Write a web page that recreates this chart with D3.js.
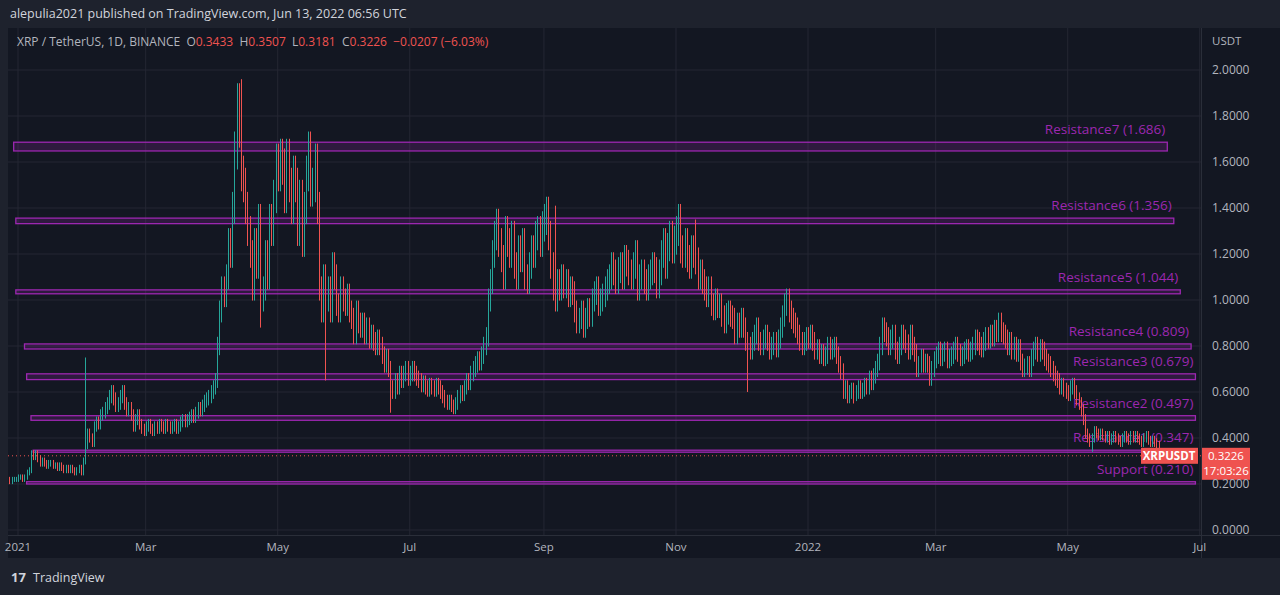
<!DOCTYPE html>
<html><head><meta charset="utf-8">
<script src="https://cdn.jsdelivr.net/npm/d3@7"></script>
<style>
body{margin:0;background:#131722;overflow:hidden}
text{font-family:"Open Sans","Noto Sans",sans-serif}
</style></head>
<body><svg width="1280" height="595"></svg>
<script>
// daily closes, Dec 28 2020 .. Jun 13 2022, one list per month
const closes = [
  [0.21,0.22,0.22,0.22],
  [0.23,0.23,0.22,0.23,0.25,0.26,0.33,0.32,0.33,0.31,0.29,0.30,0.29,0.28,0.29,0.29,0.28,0.28,0.27,0.28,0.27,0.26,0.27,0.26,0.27,0.26,0.25,0.26,0.27,0.25,0.30],
  [0.37,0.42,0.40,0.38,0.45,0.47,0.46,0.50,0.51,0.53,0.55,0.58,0.60,0.57,0.54,0.55,0.58,0.60,0.55,0.52,0.53,0.50,0.45,0.48,0.50,0.46,0.44,0.43],
  [0.45,0.46,0.44,0.43,0.45,0.44,0.46,0.45,0.44,0.46,0.45,0.44,0.45,0.46,0.44,0.45,0.47,0.48,0.47,0.48,0.49,0.50,0.49,0.51,0.53,0.52,0.54,0.56,0.57,0.58,0.60],
  [0.62,0.65,0.80,0.95,1.05,1.02,1.10,1.25,1.20,1.40,1.65,1.85,1.75,1.55,1.50,1.40,1.30,1.20,1.05,1.25,1.15,1.35,1.00,1.05,1.20,1.10,1.35,1.30,1.45,1.60],
  [1.55,1.62,1.58,1.45,1.62,1.50,1.40,1.55,1.50,1.30,1.45,1.25,1.40,1.55,1.65,1.48,1.50,1.60,1.40,1.05,0.95,1.10,1.00,1.05,0.95,1.15,1.10,0.98,0.95,1.05,1.00],
  [0.98,1.02,0.95,0.92,0.85,0.95,0.90,0.88,0.90,0.85,0.88,0.83,0.85,0.82,0.80,0.83,0.80,0.76,0.72,0.75,0.70,0.62,0.60,0.65,0.62,0.68,0.65,0.68,0.70,0.66],
  [0.68,0.70,0.68,0.66,0.65,0.63,0.64,0.62,0.61,0.63,0.62,0.61,0.63,0.62,0.60,0.58,0.56,0.55,0.56,0.54,0.53,0.55,0.58,0.60,0.59,0.62,0.65,0.64,0.68,0.70,0.72],
  [0.74,0.73,0.76,0.80,0.84,1.00,1.08,1.20,1.28,1.33,1.25,1.18,1.10,1.30,1.25,1.20,1.28,1.15,1.10,1.22,1.18,1.25,1.10,1.08,1.15,1.22,1.20,1.28,1.30,1.25,1.32],
  [1.35,1.38,1.28,1.15,1.05,1.00,1.08,1.05,1.10,1.06,1.08,1.02,1.05,1.03,0.95,0.90,0.92,0.95,0.88,0.92,0.96,0.93,1.00,1.03,1.05,0.98,1.00,1.02,1.05,1.08],
  [1.10,1.15,1.12,1.08,1.13,1.15,1.10,1.18,1.16,1.12,1.10,1.15,1.20,1.05,1.10,1.12,1.08,1.05,1.10,1.12,1.15,1.13,1.06,1.12,1.20,1.25,1.15,1.23,1.28,1.22,1.26],
  [1.30,1.35,1.22,1.20,1.25,1.18,1.15,1.22,1.20,1.17,1.10,1.12,1.08,1.05,1.02,1.05,0.98,0.96,1.00,0.97,0.98,0.93,0.90,0.94,0.95,0.93,0.92,0.85,0.90,0.88],
  [0.92,0.88,0.82,0.80,0.78,0.82,0.85,0.88,0.82,0.80,0.83,0.85,0.82,0.78,0.80,0.82,0.79,0.83,0.88,0.93,0.98,1.00,0.95,0.92,0.90,0.88,0.85,0.82,0.80,0.82,0.84],
  [0.83,0.85,0.82,0.78,0.79,0.76,0.77,0.75,0.76,0.80,0.78,0.79,0.80,0.76,0.72,0.69,0.60,0.62,0.58,0.60,0.61,0.59,0.60,0.62,0.60,0.61,0.63,0.62,0.66,0.64,0.67],
  [0.70,0.73,0.80,0.88,0.86,0.84,0.80,0.83,0.85,0.78,0.76,0.80,0.85,0.83,0.81,0.78,0.85,0.80,0.77,0.70,0.72,0.75,0.72,0.73,0.72,0.66,0.70,0.74],
  [0.76,0.78,0.75,0.77,0.78,0.74,0.75,0.76,0.78,0.80,0.77,0.75,0.76,0.78,0.79,0.77,0.78,0.80,0.83,0.82,0.80,0.79,0.82,0.84,0.83,0.85,0.84,0.87,0.86,0.90,0.86],
  [0.85,0.83,0.80,0.82,0.78,0.80,0.77,0.79,0.73,0.70,0.71,0.72,0.70,0.75,0.78,0.80,0.77,0.79,0.78,0.75,0.73,0.72,0.70,0.68,0.66,0.65,0.62,0.63,0.61,0.60],
  [0.59,0.62,0.63,0.60,0.57,0.55,0.52,0.48,0.42,0.40,0.38,0.40,0.43,0.42,0.41,0.42,0.41,0.40,0.41,0.39,0.40,0.41,0.40,0.39,0.38,0.40,0.41,0.40,0.39,0.41,0.40],
  [0.41,0.40,0.39,0.38,0.40,0.41,0.39,0.38,0.39,0.38,0.37,0.3433,0.3226]
];
// notable wicks
const wickDates = ['2021-02-01','2021-04-14','2021-04-23','2021-05-23','2021-06-22','2021-09-06','2021-11-10','2021-12-04','2022-01-22','2022-05-12','2022-06-13'];
const wickHighs = [0.75,1.96,null,null,null,1.41,1.35,null,null,null,0.3507];
const wickLows  = [null,null,0.88,0.65,0.51,null,null,0.60,0.55,0.34,0.3181];

const levelNames = ['Resistance7 (1.686)','Resistance6 (1.356)','Resistance5 (1.044)','Resistance4 (0.809)','Resistance3 (0.679)','Resistance2 (0.497)','Resistance1 (0.347)','Support (0.210)'];
const levelTops = [1.686,1.356,1.044,0.809,0.679,0.497,0.347,0.210];
const levelBottoms = [1.648,1.332,1.027,0.787,0.654,0.477,0.339,0.200];
const levelStarts = ['2020-12-30','2020-12-31','2020-12-31','2021-01-04','2021-01-05','2021-01-07','2021-01-08','2021-01-05'];
const levelEnds = ['2022-06-16','2022-06-19','2022-06-22','2022-06-27','2022-06-29','2022-06-29','2022-06-29','2022-06-29'];

const priceTicks = [0,0.2,0.4,0.6,0.8,1.0,1.2,1.4,1.6,1.8,2.0];
const monthTicks = ['2021-01-01','2021-03-01','2021-05-01','2021-07-01','2021-09-01','2021-11-01','2022-01-01','2022-03-01','2022-05-01','2022-07-01'];
const monthLabels = ['2021','Mar','May','Jul','Sep','Nov','2022','Mar','May','Jul'];

const parse = d3.utcParse('%Y-%m-%d');
const svg = d3.select('svg');
const x = d3.scaleUtc().domain([parse('2021-01-01'), parse('2022-01-01')]).range([18, 808]);
const y = d3.scaleLinear().domain([0, 2]).range([530, 70]);

// build candles
const flat = closes.flat();
const start = parse('2020-12-28');
const wickMap = new Map(wickDates.map((d, i) => [d, i]));
const candles = flat.map((c, i) => {
    const date = d3.utcDay.offset(start, i);
    const o = i === flat.length - 1 ? 0.3433 : (i === 0 ? 0.22 : flat[i - 1]);
    let h = Math.max(o, c) * 1.05, l = Math.min(o, c) * 0.95;
    const k = wickMap.get(d3.utcFormat('%Y-%m-%d')(date));
    if (k !== undefined) {
        if (wickHighs[k] !== null) h = wickHighs[k];
        if (wickLows[k] !== null) l = wickLows[k];
    }
    return {date, o, h, l, c};
});

// header
svg.append('rect').attr('width', 1280).attr('height', 28).attr('fill', '#1e222d');
svg.append('text').attr('x', 10).attr('y', 18).attr('fill', '#d1d4dc').style('font-size', '12.5px')
    .text('alepulia2021 published on TradingView.com, Jun 13, 2022 06:56 UTC');
svg.append('rect').attr('x', 0).attr('y', 28).attr('width', 8).attr('height', 530).attr('fill', '#1e222d');
svg.append('rect').attr('x', 0).attr('y', 558).attr('width', 1280).attr('height', 37).attr('fill', '#1e222d');

// grid
svg.append('g').selectAll('line').data(priceTicks).join('line')
    .attr('x1', 8).attr('x2', 1201).attr('y1', d => y(d)).attr('y2', d => y(d))
    .attr('stroke', '#242733');
svg.append('g').selectAll('line').data(monthTicks).join('line')
    .attr('x1', d => x(parse(d))).attr('x2', d => x(parse(d))).attr('y1', 28).attr('y2', 535)
    .attr('stroke', '#242733');
svg.append('line').attr('x1', 1201.5).attr('x2', 1201.5).attr('y1', 28).attr('y2', 558).attr('stroke', '#2a2e39');
svg.append('line').attr('x1', 8).attr('x2', 1280).attr('y1', 535.5).attr('y2', 535.5).attr('stroke', '#2a2e39');

// level bands
const lv = svg.append('g');
levelTops.forEach((t, i) => {
    lv.append('rect')
        .attr('x', x(parse(levelStarts[i]))).attr('y', y(t))
        .attr('width', x(parse(levelEnds[i])) - x(parse(levelStarts[i])))
        .attr('height', Math.max(2, y(levelBottoms[i]) - y(t)))
        .attr('fill', 'rgba(156,39,176,0.2)').attr('stroke', '#9c27b0').attr('stroke-width', 1.3);
    lv.append('text').attr('x', x(parse(levelEnds[i])) - 2).attr('y', y(t) - 8)
        .attr('text-anchor', 'end').attr('fill', '#9c27b0').style('font-size', '13.5px').text(levelNames[i]);
});

// candles
const cg = svg.append('g');
cg.selectAll('line').data(candles).join('line')
    .attr('x1', d => Math.round(x(d.date)) + 0.5).attr('x2', d => Math.round(x(d.date)) + 0.5)
    .attr('y1', d => y(d.h)).attr('y2', d => y(d.l))
    .attr('stroke', d => d.c >= d.o ? '#26a69a' : '#ef5350').attr('stroke-width', 1);

// last price line and tags
svg.append('line').attr('x1', 8).attr('x2', 1201).attr('y1', y(0.3226)).attr('y2', y(0.3226))
    .attr('stroke', '#ef5350').attr('stroke-dasharray', '1,3');
svg.append('rect').attr('x', 1141).attr('y', y(0.3226) - 8).attr('width', 57).attr('height', 16).attr('fill', '#ef5350');
svg.append('text').attr('x', 1169).attr('y', y(0.3226) + 4).attr('text-anchor', 'middle').attr('fill', '#fff')
    .style('font-size', '11.5px').style('font-weight', 'bold').text('XRPUSDT');
svg.append('rect').attr('x', 1202).attr('y', y(0.3226) - 8).attr('width', 48).attr('height', 32).attr('fill', '#ef5350');
svg.append('text').attr('x', 1226).attr('y', y(0.3226) + 4).attr('text-anchor', 'middle').attr('fill', '#fff')
    .style('font-size', '11.5px').text('0.3226');
svg.append('text').attr('x', 1226).attr('y', y(0.3226) + 19).attr('text-anchor', 'middle').attr('fill', '#fff')
    .style('font-size', '11.5px').text('17:03:26');

// price axis
const ya = svg.append('g').attr('transform', 'translate(1201,0)')
    .call(d3.axisRight(y).tickValues(priceTicks).tickFormat(d3.format('.4f')).tickSize(0).tickPadding(11));
ya.select('.domain').remove();
ya.selectAll('text').attr('fill', '#b2b5be').style('font-size', '12px');
svg.append('text').attr('x', 1212).attr('y', 45).attr('fill', '#b2b5be').style('font-size', '11.5px').text('USDT');

// time axis
svg.append('g').selectAll('text').data(monthTicks).join('text')
    .attr('x', d => x(parse(d))).attr('y', 551).attr('text-anchor', 'middle')
    .attr('fill', '#b2b5be').style('font-size', '11.5px').text((d, i) => monthLabels[i]);

// legend line
const lg = svg.append('text').attr('x', 17).attr('y', 46).style('font-size', '12px').attr('fill', '#b2b5be')
    .attr('xml:space', 'preserve').style('white-space', 'pre');
lg.append('tspan').text('XRP / TetherUS, 1D, BINANCE  O');
lg.append('tspan').attr('fill', '#ef5350').text('0.3433');
lg.append('tspan').text('  H');
lg.append('tspan').attr('fill', '#ef5350').text('0.3507');
lg.append('tspan').text('  L');
lg.append('tspan').attr('fill', '#ef5350').text('0.3181');
lg.append('tspan').text('  C');
lg.append('tspan').attr('fill', '#ef5350').text('0.3226  −0.0207 (−6.03%)');

// footer
svg.append('text').attr('x', 11).attr('y', 582).attr('fill', '#d1d4dc').style('font-size', '13px').style('font-weight', 'bold').text('17');
svg.append('text').attr('x', 33).attr('y', 582).attr('fill', '#d1d4dc').style('font-size', '12.5px').text('TradingView');
</script></body></html>
